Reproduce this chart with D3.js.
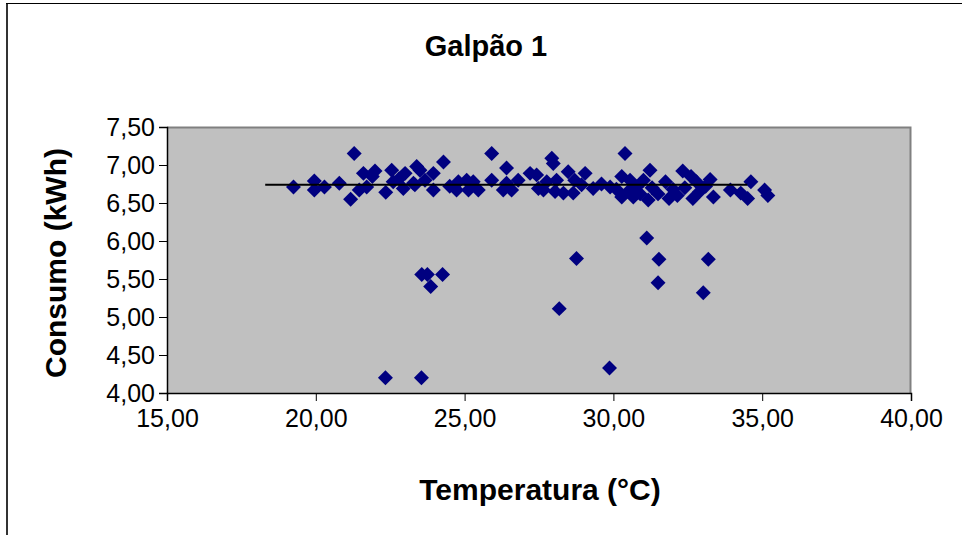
<!DOCTYPE html>
<html>
<head>
<meta charset="utf-8">
<script src="https://cdn.jsdelivr.net/npm/d3@7"></script>
<style>
  body { margin: 0; background: #fff; }
  text { font-family: "Liberation Sans", Arial, sans-serif; }
</style>
</head>
<body>
<div id="chart"></div>
<script>
// data
var temperatura = [19.25, 19.95, 19.95, 20.29, 20.79, 21.29, 21.17, 21.6, 21.99, 21.46, 21.71, 22.55, 22.35, 22.6, 23.0,
    22.94, 23.33, 23.39, 23.5, 23.95, 24.29, 23.95, 23.28, 23.67, 24.79, 24.73, 25.07, 25.13, 25.46, 25.29,
    25.91, 25.91, 26.41, 26.3, 26.58, 26.41, 26.8, 27.2, 27.42, 27.48, 27.76, 27.65, 27.93, 27.98, 28.09,
    28.04, 28.32, 28.48, 28.65, 28.7, 29.05, 28.93, 29.32, 29.89, 30.39, 30.28, 30.28, 30.56, 30.67, 30.78,
    31.17, 31.23, 31.01, 31.75, 31.87, 32.33, 32.61, 32.79, 32.67, 32.15, 33.25, 33.36, 33.93, 34.28, 34.51,
    34.62, 35.08, 35.19, 30.5, 30.9, 31.3, 31.5, 32.0, 32.4, 32.9, 33.1, 30.1, 29.6, 24.5, 22.8, 21.9,
    23.56, 23.75, 24.26, 23.86, 28.18, 31.5, 33.02, 22.34, 23.55, 29.87, 28.76, 31.53, 33.19, 31.12];
var consumo = [6.71, 6.79, 6.67, 6.71, 6.76, 7.15, 6.55, 6.89, 6.92, 6.67, 6.71, 6.93, 6.64, 6.78, 6.89,
    6.69, 6.74, 6.98, 6.93, 6.89, 7.04, 6.67, 6.76, 6.80, 6.78, 6.67, 6.80, 6.67, 6.67, 6.78,
    7.15, 6.80, 6.96, 6.67, 6.67, 6.76, 6.80, 6.89, 6.87, 6.69, 6.78, 6.67, 7.09, 7.02, 6.80,
    6.65, 6.63, 6.91, 6.63, 6.80, 6.89, 6.74, 6.69, 6.71, 7.15, 6.85, 6.58, 6.80, 6.58, 6.71,
    6.54, 6.93, 6.80, 6.78, 6.56, 6.92, 6.85, 6.78, 6.56, 6.60, 6.81, 6.58, 6.67, 6.63, 6.56,
    6.78, 6.67, 6.60, 6.65, 6.62, 6.70, 6.62, 6.68, 6.70, 6.65, 6.72, 6.68, 6.75, 6.72, 6.82, 6.85,
    5.56, 5.56, 5.56, 5.40, 5.11, 5.45, 5.32, 4.20, 4.20, 4.33, 5.77, 5.76, 5.76, 6.04];
// trend line (start / end)
var linhaX = [18.3, 34.5];
var linhaY = [6.74, 6.74];
var xTicks = [15, 20, 25, 30, 35, 40];
var yTicks = [4, 4.5, 5, 5.5, 6, 6.5, 7, 7.5];

var vWidth = 962, vHeight = 535;
var margin = { left: 167, top: 127, right: 51, bottom: 142 };
var plotW = vWidth - margin.left - margin.right;
var plotH = vHeight - margin.top - margin.bottom;

var svg = d3.select("#chart").append("svg")
    .attr("width", vWidth)
    .attr("height", vHeight);

// outer chart frame (only left and top visible)
svg.append("line").attr("x1", 7).attr("x2", 7).attr("y1", 3).attr("y2", vHeight)
    .style("stroke", "#333").style("stroke-width", 2);
svg.append("line").attr("x1", 6).attr("x2", vWidth).attr("y1", 3.5).attr("y2", 3.5)
    .style("stroke", "#000").style("stroke-width", 1);

var x = d3.scaleLinear().domain([15, 40]).range([0, plotW]);
var y = d3.scaleLinear().domain([4, 7.5]).range([plotH, 0]);

var fmt = function (d) { return d3.format(".2f")(d).replace(".", ","); };

var g = svg.append("g")
    .attr("transform", "translate(" + margin.left + "," + margin.top + ")");

// plot area
g.append("rect")
    .attr("width", plotW).attr("height", plotH)
    .style("fill", "#c0c0c0");
g.append("path")
    .attr("d", "M0,0.5H" + (plotW - 0.5) + "V" + plotH)
    .style("fill", "none").style("stroke", "#808080").style("stroke-width", 2);

// axes
var xAxis = g.append("g")
    .attr("transform", "translate(0," + plotH + ")")
    .call(d3.axisBottom(x).tickValues(xTicks).tickFormat(fmt).tickSize(8).tickPadding(6));
var yAxis = g.append("g")
    .call(d3.axisLeft(y).tickValues(yTicks).tickFormat(fmt).tickSize(8).tickPadding(4));

[xAxis, yAxis].forEach(function (a) {
    a.select(".domain").style("stroke", "#000").style("stroke-width", 1.5);
    a.selectAll(".tick line").style("stroke", "#000");
    a.selectAll("text")
        .style("font-family", "'Liberation Sans', Arial, sans-serif")
        .style("font-size", "25px")
        .style("fill", "#000");
});
yAxis.selectAll("text").attr("dy", "0.35em");
xAxis.selectAll("text").attr("dy", "0.8em");

// points
var diamond = {
    draw: function (ctx, size) {
        var r = Math.sqrt(size / 2);
        ctx.moveTo(0, -r); ctx.lineTo(r, 0); ctx.lineTo(0, r); ctx.lineTo(-r, 0); ctx.closePath();
    }
};
var pontos = temperatura.map(function (t, i) { return { t: t, c: consumo[i] }; });
g.selectAll(".ponto")
    .data(pontos)
    .enter().append("path")
    .attr("class", "ponto")
    .attr("transform", function (d) { return "translate(" + x(d.t) + "," + y(d.c) + ")"; })
    .attr("d", d3.symbol().type(diamond).size(112))
    .style("fill", "#000080");

// trend line
g.append("line")
    .attr("x1", x(linhaX[0])).attr("x2", x(linhaX[1]))
    .attr("y1", y(linhaY[0])).attr("y2", y(linhaY[1]))
    .style("stroke", "#000").style("stroke-width", 2);

// titles
svg.append("text")
    .attr("x", 486).attr("y", 56)
    .attr("text-anchor", "middle")
    .style("font-size", "29px").style("font-weight", "bold")
    .text("Galpão 1");
svg.append("text")
    .attr("x", 540).attr("y", 500)
    .attr("text-anchor", "middle")
    .style("font-size", "30px").style("font-weight", "bold")
    .text("Temperatura (°C)");
svg.append("text")
    .attr("transform", "translate(66," + 263 + ") rotate(-90)")
    .attr("text-anchor", "middle")
    .style("font-size", "30px").style("font-weight", "bold")
    .text("Consumo (kWh)");
</script>
</body>
</html>
